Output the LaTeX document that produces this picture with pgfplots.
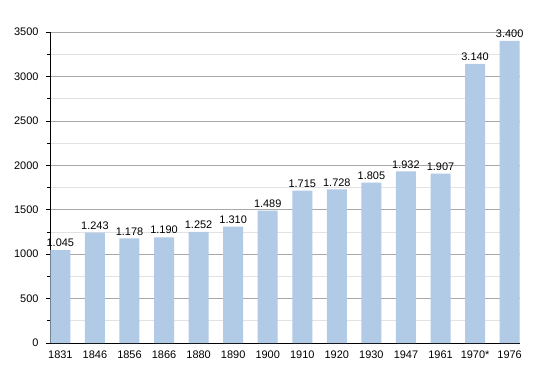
\documentclass[border=0pt]{standalone}
\usepackage{pgfplots}
\pgfplotsset{compat=1.18}
\usepackage{fontspec}
\setmainfont{Liberation Sans}
\usetikzlibrary{calc}
\definecolor{barblue}{HTML}{B1CAE5}
\definecolor{majgrid}{HTML}{A8A8A8}
\definecolor{mingrid}{HTML}{E2E2E2}
\begin{document}
\begin{tikzpicture}
\begin{axis}[
  scale only axis,
  width=470bp, height=311bp,
  xmin=-0.3, xmax=13.3,
  ymin=0, ymax=3500,
  ytick={0,500,...,3500},
  minor ytick={250,750,...,3250},
  xtick=data,
  xticklabels={1831,1846,1856,1866,1880,1890,1900,1910,1920,1930,1947,1961,1970*,1976},
  x tick style={draw=none},
  y tick style={black, line width=0.6pt},
  major tick length=4bp, minor tick length=3bp,
  tick align=outside,
  axis x line*=bottom, axis y line*=left,
  axis line style={black, line width=1pt, -},
  ymajorgrids, yminorgrids,
  major grid style={majgrid, line width=0.7pt},
  minor grid style={mingrid, line width=0.7pt},
  /pgf/number format/assume math mode=true,
  yticklabel style={/pgf/number format/1000 sep={}, xshift=-4bp},
  tick label style={font=\fontsize{11}{13}\selectfont},
  ybar, bar width=20bp,
  nodes near coords,
  nodes near coords style={font=\fontsize{11}{13}\selectfont, /pgf/number format/1000 sep={.}, /pgf/number format/fixed, inner sep=1.5bp, yshift=1.5bp},
  axis on top=false,
  clip=false,
]
\addplot[fill=barblue, draw=none] coordinates {
(0,1045) (1,1243) (2,1178) (3,1190) (4,1252) (5,1310) (6,1489) (7,1715) (8,1728) (9,1805) (10,1932) (11,1907) (12,3140) (13,3400)
};
\end{axis}
\path ($(current axis.south west)+(-50bp,-30bp)$) rectangle ($(current axis.north east)+(30bp,32bp)$);
\end{tikzpicture}
\end{document}
